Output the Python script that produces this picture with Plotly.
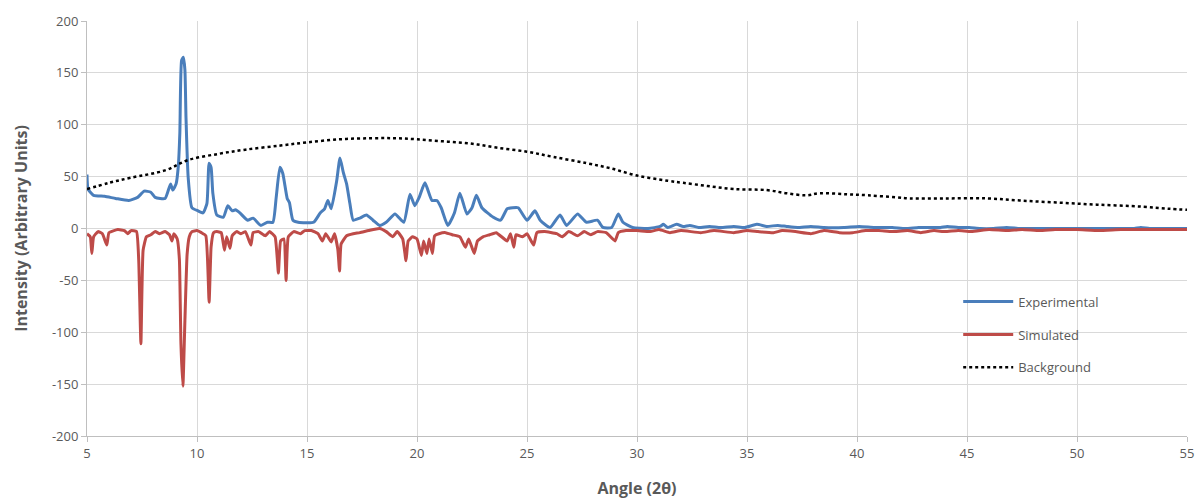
import plotly.graph_objects as go

# ---- Data ----
exp_x = [5.0, 5.05, 5.3, 5.8, 6.3, 6.9, 7.3, 7.6, 7.9, 8.1, 8.55, 8.8, 8.9, 9.05, 9.15, 9.22, 9.3, 9.38, 9.45, 9.5,
         9.6, 9.77, 10.05, 10.27, 10.45, 10.55, 10.64, 10.72, 10.9, 11.2, 11.4, 11.6, 11.75, 11.95, 12.3, 12.55, 12.9,
         13.2, 13.45, 13.6, 13.77, 13.9, 14.1, 14.2, 14.36, 14.6, 15.3, 15.6, 15.8, 15.95, 16.1, 16.35, 16.5, 16.65,
         16.8, 16.95, 17.1, 17.4, 17.7, 18.0, 18.3, 18.6, 19.0, 19.4, 19.68, 19.9, 20.1, 20.36, 20.68, 20.9, 21.1,
         21.4, 21.7, 21.95, 22.27, 22.5, 22.7, 22.95, 23.45, 23.8, 24.1, 24.35, 24.6, 25.0, 25.36, 25.6, 26.05, 26.5,
         26.8, 27.3, 27.7, 28.2, 28.45, 28.85, 29.15, 29.36, 29.8, 30.5, 31.05, 31.2, 31.4, 31.8, 32.1, 32.4, 32.8,
         33.3, 33.8, 34.4, 34.9, 35.45, 35.9, 36.4, 36.8, 37.3, 37.9, 38.5, 39.4, 40.1, 40.8, 41.6, 42.2, 42.8, 43.4,
         43.8, 44.1, 44.6, 45.1, 45.6, 46.2, 46.8, 47.4, 48.0, 48.5, 49.2, 50.0, 50.8, 51.4, 52.0, 52.6, 52.9, 53.3,
         54.0, 55.0]
exp_y = [52, 38, 32, 31, 29, 27, 30, 36, 35, 30, 29, 43, 37, 43, 60, 92, 162, 165, 153, 107,
         49, 20, 17, 15, 24, 63, 59, 34, 13, 11, 22, 17, 18, 15, 8, 10, 3,
         6, 6, 30, 59, 53, 29, 25, 8, 6, 6, 15, 19, 27, 19, 46, 68, 54,
         43, 24, 8, 10, 13, 8, 3, 6, 14, 6, 33, 22, 30, 44, 27, 27, 20,
         3, 15, 34, 14, 20, 32, 20, 11, 8, 19, 20, 20, 8, 17, 8, 1, 13,
         3, 14, 6, 8, 1, 1, 14, 6, 1, 0, 2, 4, 1, 4, 2, 3, 1,
         2, 1, 2, 1, 4, 2, 3, 2, 1, 2, 1, 1, 2, 1, 1, 0, 1, 1,
         1, 2, 1, 1, 0, 0, 1, 0, 0, 0, 0, 0, 0, 0, 0, 0, 1, 0,
         0, 0]

sim_x = [5.0, 5.15, 5.22, 5.3, 5.5, 5.7, 5.9, 6.0, 6.4, 6.7, 6.85, 7.0, 7.25, 7.35, 7.45, 7.55, 7.7, 7.9, 8.1, 8.3,
         8.55, 8.75, 8.86, 8.95, 9.1, 9.2, 9.27, 9.36, 9.45, 9.55, 9.65, 9.77, 10.0, 10.2, 10.4, 10.55, 10.64, 10.75,
         10.9, 11.1, 11.25, 11.35, 11.5, 11.6, 11.8, 12.0, 12.2, 12.45, 12.55, 12.8, 13.1, 13.3, 13.55, 13.7, 13.8,
         13.95, 14.05, 14.15, 14.4, 14.7, 14.9, 15.2, 15.5, 15.7, 15.85, 16.1, 16.25, 16.4, 16.48, 16.55, 16.8, 17.1,
         17.4, 17.8, 18.3, 18.6, 18.9, 19.1, 19.35, 19.5, 19.6, 19.8, 20.0, 20.2, 20.3, 20.45, 20.55, 20.7, 20.8,
         21.0, 21.3, 21.6, 21.95, 22.2, 22.35, 22.6, 22.75, 23.0, 23.3, 23.6, 24.1, 24.25, 24.4, 24.5, 24.8, 25.0,
         25.3, 25.45, 25.8, 26.35, 26.6, 26.9, 27.3, 27.6, 27.9, 28.2, 28.6, 29.0, 29.15, 29.5, 30.0, 30.6, 31.0,
         31.5, 32.0, 32.9, 33.5, 34.4, 35.0, 35.5, 36.2, 36.6, 37.2, 37.9, 38.5, 39.2, 39.8, 40.4, 41.0, 41.6, 42.3,
         42.9, 43.5, 44.0, 44.6, 45.2, 46.0, 46.8, 47.5, 48.3, 49.0, 50.0, 51.0, 52.0, 53.0, 54.0, 55.0]
sim_y = [-5, -8, -24, -8, -3, -5, -16, -4, -1, -2, -5, -2, -3, -30, -111, -21, -8, -6, -3, -5,
         -3, -6, -12, -5, -10, -30, -111, -152, -89, -25, -8, -3, -2, -4, -7, -71, -18, -4,
         -3, -4, -21, -8, -19, -7, -3, -5, -3, -16, -4, -3, -7, -3, -8, -43, -12,
         -10, -50, -8, -3, -5, -2, -2, -5, -12, -5, -13, -5, -20, -41, -15, -7, -5,
         -4, -2, 0, -3, -8, -3, -10, -31, -12, -8, -10, -26, -12, -24, -10, -24, -7,
         -5, -4, -6, -8, -18, -10, -24, -12, -8, -6, -4, -12, -5, -18, -6, -8, -5,
         -16, -4, -3, -5, -8, -3, -7, -3, -6, -3, -4, -12, -4, -2, -2, -3, -1,
         -4, -2, -4, -2, -4, -2, -3, -4, -2, -3, -5, -2, -4, -4, -2, -2, -3, -2,
         -4, -2, -3, -2, -3, -1, -2, -1, -2, -1, -1, -2, -1, -1, -1, -1]

bg_x = [5.0, 6.0, 7.0, 8.55, 9.6, 11.0, 12.2, 13.8, 15.0, 16.5, 17.9, 19.0, 20.0, 21.2, 22.4, 23.6, 25.0, 26.2,
        27.7, 28.8, 30.0, 31.4, 32.1, 33.2, 34.4, 35.9, 36.8, 37.7, 38.3, 39.5, 40.5, 41.8, 42.4, 44.0, 45.9,
        47.4, 49.1, 50.9, 53.0, 54.2, 55.0]
bg_y = [38, 44, 49, 56, 66, 72, 76, 80, 83, 86, 87, 87, 86, 84, 82, 78, 74, 69,
        63, 58, 51, 46, 44, 41, 38, 37, 34, 32, 34, 33, 32, 30, 29, 29, 29,
        27, 25, 23, 21, 19, 18]

x_ticks = [5, 10, 15, 20, 25, 30, 35, 40, 45, 50, 55]
y_ticks = [-200, -150, -100, -50, 0, 50, 100, 150, 200]

FONT = "Open Sans"
GRAY = "#595959"

fig = go.Figure()
fig.add_trace(go.Scatter(x=exp_x, y=exp_y, mode="lines", name="Experimental", legendgroup="a",
                         line=dict(color="#4A7EBB", width=3, shape="spline", smoothing=0.5)))
fig.add_trace(go.Scatter(x=sim_x, y=sim_y, mode="lines", name="Simulated", legendgroup="b",
                         line=dict(color="#BE4B48", width=3, shape="spline", smoothing=0.4)))
fig.add_trace(go.Scatter(x=bg_x, y=bg_y, mode="lines", name="Background", legendgroup="c",
                         line=dict(color="#000000", width=2.5, dash="dot", shape="spline")))

fig.update_layout(
    width=1200, height=500,
    margin=dict(l=87, r=13, t=21, b=64, autoexpand=False),
    paper_bgcolor="white", plot_bgcolor="white",
    font=dict(family=FONT, color=GRAY, size=13),
    showlegend=True,
    legend=dict(x=0.792, y=0.36, xanchor="left", yanchor="top",
                bgcolor="rgba(0,0,0,0)", font=dict(size=13, color=GRAY),
                tracegroupgap=13, itemwidth=50),
)
fig.update_xaxes(range=[5, 55], tickvals=x_ticks, ticktext=[str(v) for v in x_ticks],
                 showgrid=True, gridcolor="#D9D9D9", gridwidth=1,
                 showline=True, linecolor="#BFBFBF", linewidth=1,
                 ticks="outside", ticklen=5, tickcolor="#BFBFBF", automargin=False,
                 zeroline=False, tickfont=dict(size=13, color=GRAY),
                 title=dict(text="<b>Angle (2θ)</b>", font=dict(size=16, color=GRAY), standoff=22))
fig.update_yaxes(range=[-200, 200], tickvals=y_ticks, ticktext=[str(v) for v in y_ticks],
                 showgrid=True, gridcolor="#D9D9D9", gridwidth=1,
                 showline=True, linecolor="#BFBFBF", linewidth=1,
                 ticks="outside", ticklen=5, tickcolor="#BFBFBF", automargin=False,
                 zeroline=False, tickfont=dict(size=13, color=GRAY),
                 title=dict(text="<b>Intensity (Arbitrary Units)</b>", font=dict(size=16, color=GRAY), standoff=20))

fig.write_html("out.html")
